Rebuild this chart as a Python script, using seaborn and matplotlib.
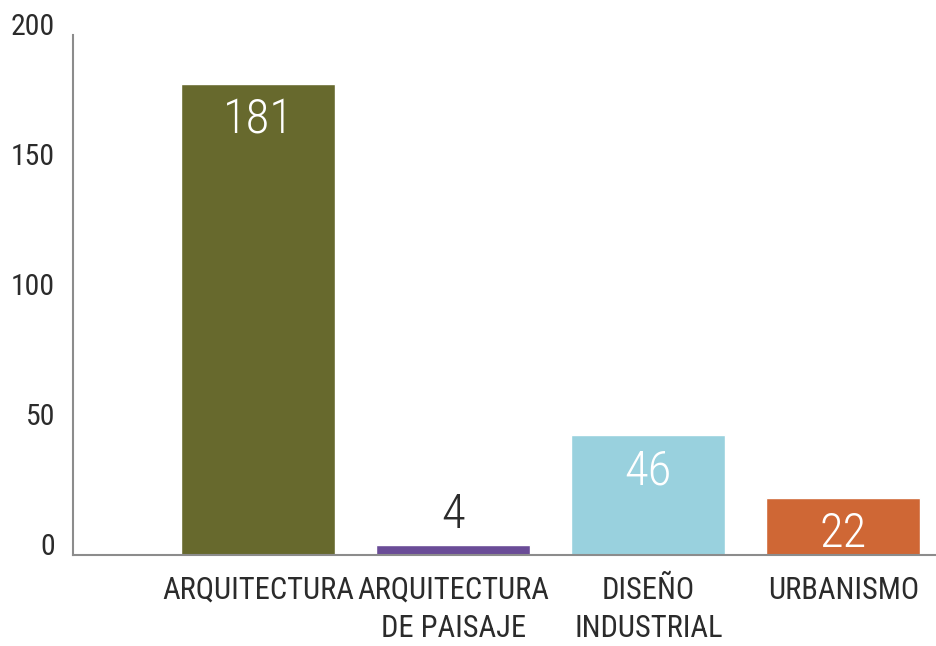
import matplotlib
matplotlib.use('Agg')
import matplotlib.pyplot as plt
import seaborn as sns

# Data
categories = ['ARQUITECTURA', 'ARQUITECTURA\nDE PAISAJE', 'DISEÑO\nINDUSTRIAL', 'URBANISMO']
values = [181, 4, 46, 22]
colors = ['#67692d', '#6a4c97', '#99d1de', '#cf6735']
yticks = [0, 50, 100, 150, 200]

sns.set_style('white')
plt.rcParams['font.family'] = ['Roboto Condensed', 'Roboto', 'DejaVu Sans']

axis_color = '#8c8c8c'
text_color = '#2b2b2b'

fig = plt.figure(figsize=(9.36, 6.46), dpi=100)
ax = fig.add_axes([73 / 936, 1 - 555 / 646, 1 - 73 / 936, (555 - 35) / 646])

sns.barplot(x=categories, y=values, hue=categories, palette=colors, legend=False,
            width=0.79, saturation=1, ax=ax)

ax.set_xlim(-0.95, 3.475)
ax.set_ylim(0, 200)
ax.set_xlabel('')
ax.set_ylabel('')

for side in ['top', 'right']:
    ax.spines[side].set_visible(False)
for side in ['left', 'bottom']:
    ax.spines[side].set_color(axis_color)
    ax.spines[side].set_linewidth(1.5)

# y axis: ticks pointing inward, labels sitting on the tick line
ax.set_yticks(yticks)
ax.tick_params(axis='y', direction='in', length=17, width=1.3, color=axis_color,
               labelsize=21.5, pad=13, labelcolor=text_color)
for lab in ax.get_yticklabels():
    lab.set_va('baseline')

ax.tick_params(axis='x', length=0, pad=15, labelsize=22, labelcolor=text_color)
for lab in ax.get_xticklabels():
    lab.set_linespacing(1.4)

# value labels: inside the bar for tall bars, above for the short one
for i, v in enumerate(values):
    if v > 10:
        ax.annotate(str(v), (i, v), xytext=(0, -9), textcoords='offset points',
                    ha='center', va='top', color='white', fontsize=35,
                    fontweight='light')
    else:
        ax.annotate(str(v), (i, v), xytext=(0, 12), textcoords='offset points',
                    ha='center', va='baseline', color=text_color, fontsize=35,
                    fontweight='light')

fig.savefig('out.png', dpi=100)
